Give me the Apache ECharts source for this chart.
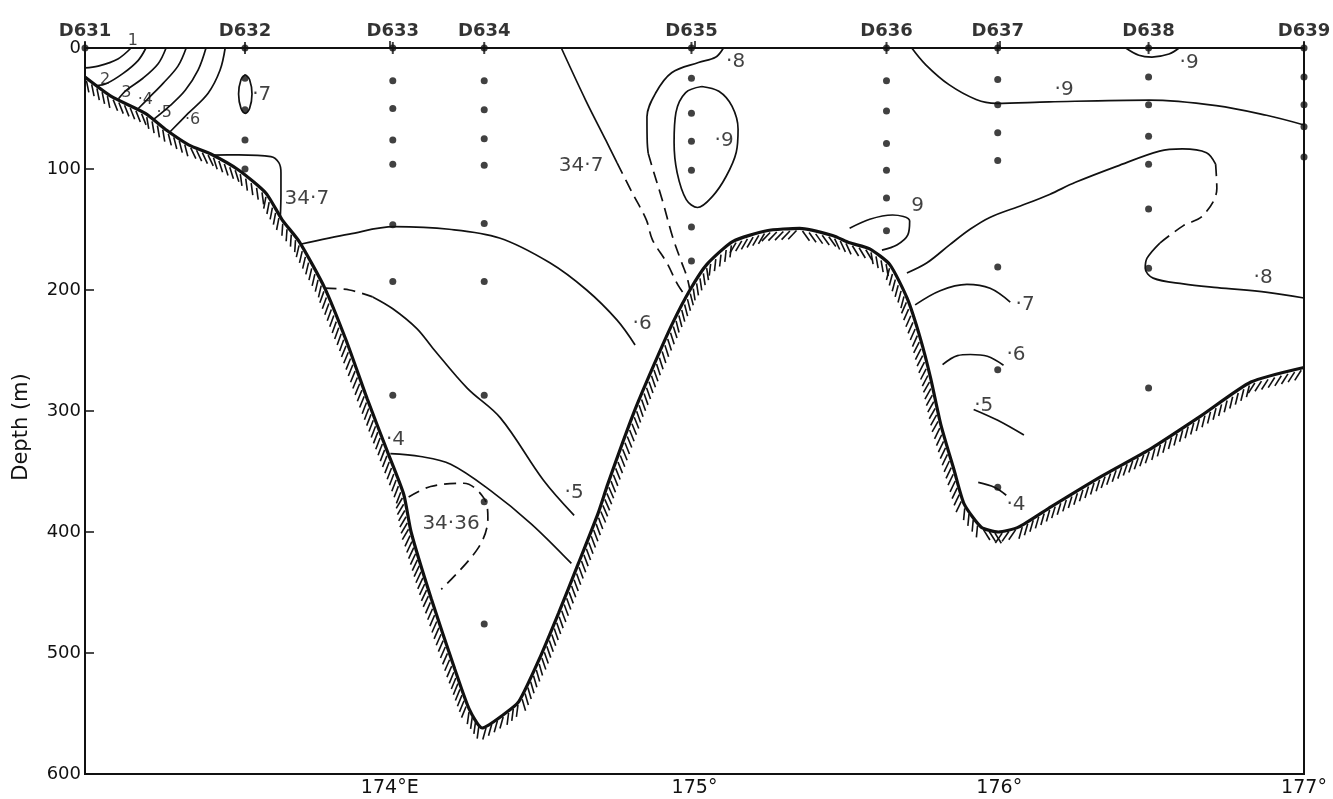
<!DOCTYPE html>
<html><head><meta charset="utf-8">
<script src="https://cdn.jsdelivr.net/npm/echarts/dist/echarts.min.js"></script>
<style>html,body{margin:0;padding:0;background:#fff}#c{width:1333px;height:799px}</style>
</head><body><div id="c"></div>
<script>
// ---- stations ----
const stationNames = ['D631','D632','D633','D634','D635','D636','D637','D638','D639'];
const stationLon = [173.0,173.525,174.01,174.31,174.99,175.63,175.995,176.49,177.0];
const sampleDepths = [
  [0],
  [0,25,51,76,100],
  [0,27,50,76,96,146,193,287],
  [0,27,51,75,97,145,193,287,375,476],
  [0,25,54,77,101,148,176],
  [0,27,52,79,101,124,151],
  [0,26,47,70,93,181,266,363],
  [0,24,47,73,96,133,182,281],
  [0,24,47,65,90]
];
// ---- axis tick labels ----
const xTickLabels = {174:'174°E',175:'175°',176:'176°',177:'177°'};
const depthTicks = [0,100,200,300,400,500,600];
// ---- sea floor (lon, depth m) ----
const bottomProfile = [[173.0,24],[173.086,40],[173.198,54],[173.268,68],[173.340,80],[173.416,88],[173.505,101],[173.594,120],[173.647,142],[173.703,160],[173.786,198],[173.859,243],[173.926,290],[173.993,334],[174.046,369],[174.070,400],[174.136,455],[174.213,513],[174.260,546],[174.303,562],[174.378,550],[174.424,540],[174.489,506],[174.554,467],[174.619,426],[174.683,385],[174.716,360],[174.800,302],[174.865,263],[174.929,227],[174.985,200],[175.040,179],[175.125,160],[175.237,151],[175.345,149],[175.453,155],[175.509,161],[175.575,166],[175.641,179],[175.698,207],[175.741,240],[175.775,273],[175.808,311],[175.852,349],[175.885,377],[175.941,396],[175.997,400],[176.063,396],[176.171,379],[176.335,354],[176.498,331],[176.662,304],[176.826,276],[177.0,264]];
// ---- salinity isolines (lon, depth m) ----
const s341 = [[173.151,0],[173.108,9],[173.043,15],[173.0,16.5]];
const s342 = [[173.200,0],[173.174,10.4],[173.125,21],[173.069,29.6],[173.04,31]];
const s343 = [[173.266,0],[173.240,13],[173.190,25],[173.135,35],[173.11,42]];
const s344 = [[173.332,0],[173.305,15],[173.257,29],[173.208,41.6],[173.175,50]];
const s345 = [[173.397,0],[173.371,18.3],[173.329,34.9],[173.280,47.4],[173.225,59]];
const s346 = [[173.460,0],[173.443,18.4],[173.404,37.3],[173.339,53.9],[173.28,69]];
const s347Lens = [[173.526,22],[173.540,26],[173.548,38],[173.540,50],[173.526,54],[173.512,50],[173.504,38],[173.512,26],[173.526,22]];
const s347Box = [[173.416,88.5],[173.505,88.3],[173.610,89.8],[173.636,94.7],[173.643,103],[173.643,122],[173.641,139]];
const s346Arc = [[173.710,162],[173.867,153.8],[174.015,147.7],[174.195,149.8],[174.360,157],[174.524,177.3],[174.646,200],[174.746,224.9],[174.805,245.4]];
const s345Dash = [[173.786,198.5],[173.868,200],[173.944,205.7]];
const s345Deep = [[173.944,205.7],[174.010,215.5],[174.089,231.9],[174.142,248.3],[174.254,281.1],[174.363,305.7],[174.505,357.5],[174.605,386.3]];
const s344Deep = [[174.002,335.3],[174.101,337.6],[174.200,344],[174.332,366],[174.464,393.2],[174.596,426]];
const s3436 = [[174.062,371],[174.134,362.4],[174.243,359.7],[174.309,372],[174.322,388.5],[174.290,413.3],[174.169,447.4]];
const s347Solid = [[174.563,0],[174.643,43.2],[174.709,76.2],[174.746,95]];
const s347Dash = [[174.746,95],[174.796,119.8],[174.842,142],[174.862,158.5],[174.909,177.4],[174.945,195.6],[174.968,204]];
const s348Solid = [[175.095,0],[175.069,7.7],[175.013,12],[174.925,20.4],[174.873,37],[174.844,56.9],[174.845,78.4],[174.848,87]];
const s348Dash = [[174.848,87],[174.861,98.2],[174.894,125.4],[174.928,156],[174.958,177.4],[174.975,189],[174.985,200]];
const s349Loop = [[175.024,31.8],[175.080,35.8],[175.123,48.1],[175.143,67.1],[175.137,86.1],[175.104,106],[175.059,122.6],[175.010,131.8],[174.973,125.3],[174.943,103],[174.933,78.2],[174.939,53.4],[174.971,36.8],[175.024,31.8]];
const s349East = [[175.713,0],[175.759,13.9],[175.835,30.3],[175.924,42.5],[175.990,45.7],[176.164,44.5],[176.492,43.1],[176.712,47.6],[176.877,55.6],[177.0,63.6]];
const s349Lens = [[176.415,0],[176.458,6],[176.501,7.5],[176.557,5],[176.59,0]];
const s349Deep = [[175.509,149],[175.575,141.5],[175.650,138],[175.706,142.9],[175.700,154.5],[175.664,162.8],[175.615,167]];
const s348East1 = [[175.697,185.9],[175.763,177.5],[175.838,162.5],[175.903,150],[175.969,140],[176.077,129.8],[176.165,121],[176.250,111],[176.385,97.8],[176.526,85.2],[176.601,83.4],[176.680,86.5],[176.710,96]];
const s348EastDash = [[176.710,96],[176.714,116.2],[176.668,138.6],[176.603,147],[176.527,161.2]];
const s348East2 = [[176.527,161.2],[176.485,173.7],[176.479,182],[176.505,190.2],[176.604,194.9],[176.716,198],[176.880,201.9],[177.0,206.6]];
const s347East = [[175.724,212.3],[175.806,200.6],[175.894,195.4],[175.970,198.6],[176.036,210]];
const s346East = [[175.814,261.7],[175.863,254.2],[175.905,253.3],[175.961,254.8],[176.014,262.2]];
const s345East = [[175.916,298.7],[175.995,307.7],[176.081,319.9]];
const s344East = [[175.931,359],[175.984,363],[176.023,369.6]];
// ---- isoline labels: lon, depth, text, size ----
const labelLon   = [173.157,173.066,173.136,173.198,173.26,173.353,173.580,173.728,174.828,174.605,174.019,174.201,174.628,175.135,175.097,175.732,176.213,176.623,176.866,176.085,176.055,175.949,176.055];
const labelDepth = [-6,26,37,42.5,53.5,59.7,38.6,125,228,368,323.7,393.6,97,11.7,77,130.5,34.5,12.3,190.3,212.5,253.8,295.3,377.8];
const labelText  = ['1','2','3','·4','·5','·6','·7','34·7','·6','·5','·4','34·36','34·7','·8','·9','9','·9','·9','·8','·7','·6','·5','·4'];
const labelSize  = [16,16,16,16,16,16,20,20,20,20,20,20,20,20,20,20,20,20,20,20,20,20,20];

const solidLines = [s341,s342,s343,s344,s345,s346,s347Lens,s347Box,s346Arc,s345Deep,s344Deep,s347Solid,s348Solid,s349Loop,s349East,s349Lens,s349Deep,s348East1,s348East2,s347East,s346East,s345East,s344East];
const dashedLines = [s345Dash,s3436,s347Dash,s348Dash,s348EastDash];

const FONT = 'DejaVu Sans';
const INK = '#111';

function hatch(params, api) {
  const i = params.dataIndex;
  if (i >= bottomProfile.length - 1) return null;
  const p0 = api.coord(bottomProfile[i]);
  const p1 = api.coord(bottomProfile[i + 1]);
  const dx = p1[0] - p0[0], dy = p1[1] - p0[1];
  const len = Math.hypot(dx, dy);
  if (len < 0.5) return null;
  const tx = dx / len, ty = dy / len;
  const nx = -ty, ny = tx;              // sea-floor side
  const sgn = ty >= 0 ? 1 : -1;          // lean downhill
  const a = 48 * Math.PI / 180;
  const ux = nx * Math.cos(a) + sgn * tx * Math.sin(a);
  const uy = ny * Math.cos(a) + sgn * ty * Math.sin(a);
  const spacing = 6.5, L = 12, off = 2;
  const n = Math.max(1, Math.round(len / spacing));
  const children = [];
  for (let k = 0; k < n; k++) {
    const t = (k + 0.5) / n * len;
    const bx = p0[0] + tx * t + nx * off, by = p0[1] + ty * t + ny * off;
    children.push({type: 'line', shape: {x1: bx, y1: by, x2: bx + ux * L, y2: by + uy * L},
      style: {stroke: INK, lineWidth: 1.6}});
  }
  return {type: 'group', children};
}

const series = [];
solidLines.forEach(d => series.push({type: 'line', data: d, smooth: 0.35, symbol: 'none',
  lineStyle: {color: INK, width: 1.7}, z: 3, silent: true}));
dashedLines.forEach(d => series.push({type: 'line', data: d, smooth: 0.35, symbol: 'none',
  lineStyle: {color: INK, width: 1.7, type: [12, 7]}, z: 3, silent: true}));
series.push({type: 'custom', data: bottomProfile, renderItem: hatch, clip: true, z: 4, silent: true});
series.push({type: 'line', data: bottomProfile, smooth: 0.2, symbol: 'none',
  lineStyle: {color: INK, width: 3.2}, z: 5, silent: true});
// sample dots
const dots = [];
stationLon.forEach((lon, s) => sampleDepths[s].forEach(d => dots.push([lon, d])));
series.push({type: 'scatter', data: dots, symbolSize: 7, itemStyle: {color: INK}, z: 6, clip: false, silent: true});
// station ticks + names
series.push({type: 'scatter', clip: false, silent: true, z: 6,
  data: stationLon.map((lon, s) => ({value: [lon, 0], name: stationNames[s]})),
  symbol: 'rect', symbolSize: [2, 12], itemStyle: {color: INK},
  label: {show: true, position: 'top', distance: 2, formatter: p => p.name,
    fontFamily: FONT, fontSize: 18, fontWeight: 'bold', color: '#000'}});
// isoline labels
series.push({type: 'scatter', clip: false, silent: true, z: 7,
  data: labelText.map((t, k) => ({value: [labelLon[k], labelDepth[k]], name: t,
    label: {fontSize: labelSize[k]}})),
  symbolSize: 0.1, itemStyle: {color: 'rgba(0,0,0,0)'},
  label: {show: true, position: 'inside', formatter: p => p.name,
    fontFamily: FONT, color: INK}});

const chart = echarts.init(document.getElementById('c'), null, {renderer: 'canvas'});
chart.setOption({
  animation: false,
  backgroundColor: '#fff',
  grid: {left: 85, right: 29, top: 48, bottom: 25, show: true, borderColor: INK, borderWidth: 2, backgroundColor: 'transparent'},
  xAxis: {type: 'value', min: 173, max: 177, interval: 1,
    axisLine: {show: false}, splitLine: {show: false},
    axisTick: {show: true, inside: true, length: 7, lineStyle: {color: INK, width: 1.5}},
    axisLabel: {fontFamily: FONT, fontSize: 19, color: '#111', margin: 5,
      formatter: v => xTickLabels[Math.round(v)] || ''}},
  yAxis: {type: 'value', inverse: true, min: depthTicks[0], max: depthTicks[depthTicks.length - 1], interval: 100,
    axisLine: {show: false}, splitLine: {show: false},
    axisTick: {show: true, inside: true, length: 9, lineStyle: {color: INK, width: 1.5}},
    axisLabel: {fontFamily: FONT, fontSize: 18, color: '#111', margin: 4}},
  graphic: [{type: 'text', x: 22, y: 427, rotation: Math.PI / 2,
    style: {text: 'Depth (m)', fontFamily: FONT, fontSize: 21, fill: '#111', align: 'center', verticalAlign: 'middle'}}],
  series
});
</script></body></html>
